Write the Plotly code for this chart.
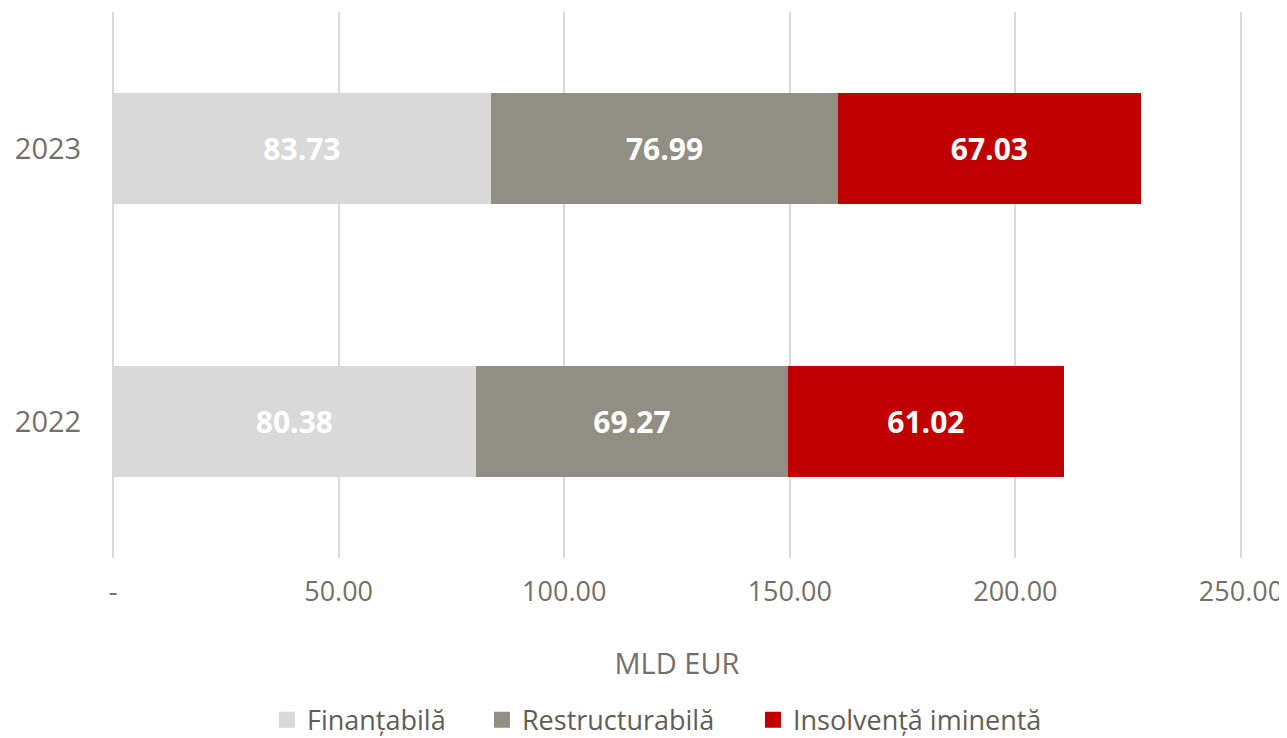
import plotly.graph_objects as go

years = ["2022", "2023"]
series_names = ["Finanțabilă", "Restructurabilă", "Insolvență iminentă"]
finantabila = [80.38, 83.73]
restructurabila = [69.27, 76.99]
insolventa = [61.02, 67.03]
colors = ["#d9d9d9", "#918f84", "#c00000"]
tick_vals = [0, 50, 100, 150, 200, 250]
tick_text = ["-", "50.00", "100.00", "150.00", "200.00", "250.00"]

FONT = "Open Sans"
TXT = "#737069"
legend_ids = ["legend", "legend2", "legend3"]
legend_x = [0.1378, 0.3277, 0.5671]

fig = go.Figure()
for name, vals, col in zip(series_names, [finantabila, restructurabila, insolventa], colors):
    fig.add_trace(go.Bar(
        y=years, x=vals, name=name, orientation="h", showlegend=False,
        marker=dict(color=col, line=dict(width=0)),
        text=[f"{v:.2f}" for v in vals], textposition="inside",
        insidetextanchor="middle",
        textfont=dict(color="white", size=30, family=FONT, weight="bold"),
    ))
# legend entries (square swatches)
for name, col, lid in zip(series_names, colors, legend_ids):
    fig.add_trace(go.Scatter(
        x=[None], y=[None], mode="markers", name=name, legend=lid,
        marker=dict(symbol="square", size=16, color=col, line=dict(width=0)),
    ))

legend_common = dict(orientation="h", xanchor="left", y=-0.297, yanchor="middle",
                     font=dict(size=27, color="#5f5d57", family=FONT),
                     bgcolor="rgba(0,0,0,0)", borderwidth=0)

# page body has an 8px margin, so the figure is sized/offset to compensate
fig.update_layout(
    barmode="stack", bargap=0.597,
    width=1279, height=730,
    margin=dict(l=103, r=44, t=4, b=180, autoexpand=False),
    plot_bgcolor="white", paper_bgcolor="white",
    font=dict(family=FONT, color=TXT),
    uniformtext=dict(mode=False),
    legend=dict(x=legend_x[0], **legend_common),
    legend2=dict(x=legend_x[1], **legend_common),
    legend3=dict(x=legend_x[2], **legend_common),
    xaxis=dict(range=[-0.45, 250.45], tickvals=tick_vals, ticktext=tick_text,
               automargin=False,
               showgrid=True, gridcolor="#d9d9d9", gridwidth=2, zeroline=False,
               showline=False, tickfont=dict(size=27, color=TXT),
               ticks="outside", ticklen=10, tickcolor="rgba(0,0,0,0)",
               title=dict(text="MLD EUR", font=dict(size=29, color=TXT), standoff=45)),
    yaxis=dict(showgrid=False, zeroline=False, showline=False, automargin=False,
               tickfont=dict(size=29, color=TXT),
               ticks="outside", ticklen=23, tickcolor="rgba(0,0,0,0)"),
)
fig.write_html("out.html")
